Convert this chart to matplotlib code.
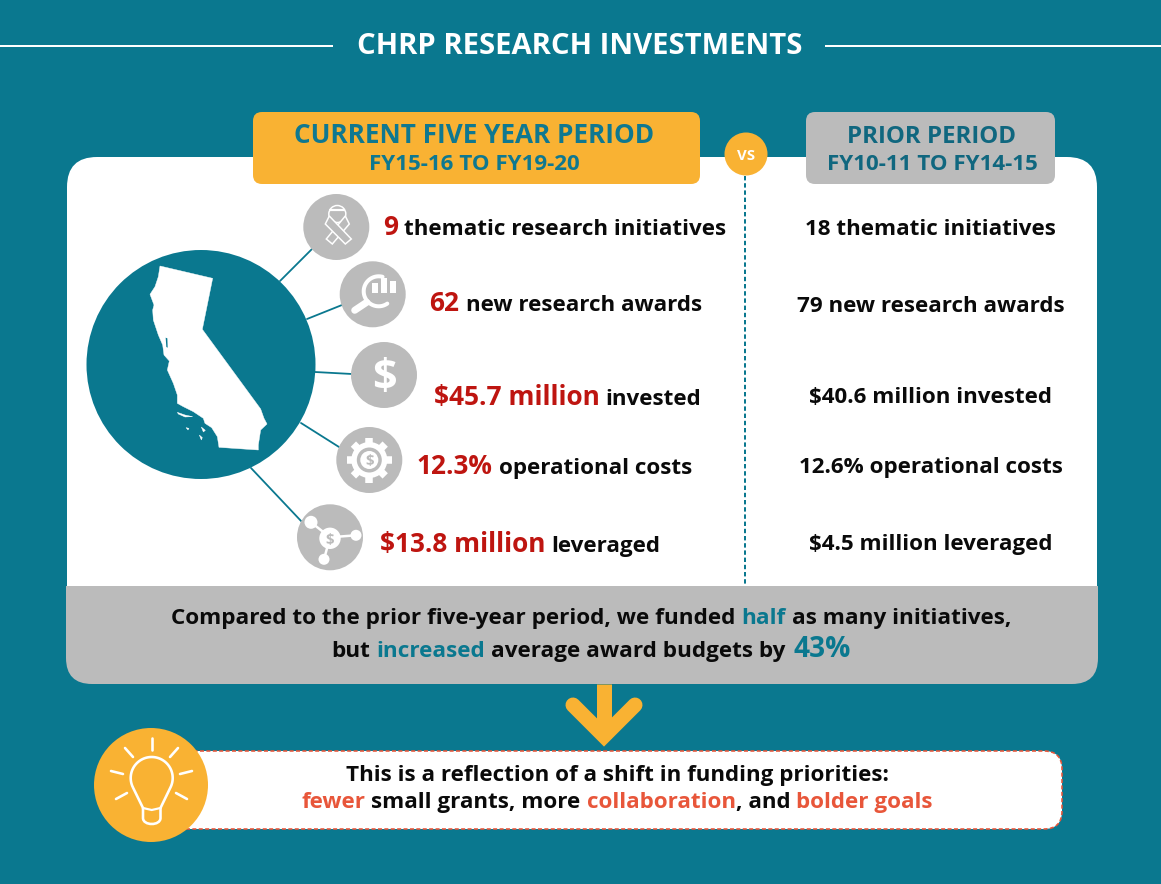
#!/usr/bin/env python3
"""CHRP research investments infographic, drawn in pixel coordinates."""
import matplotlib
matplotlib.use("Agg")
import matplotlib.pyplot as plt
import numpy as np
from matplotlib.patches import Circle, FancyBboxPatch, PathPatch, Polygon
from matplotlib.path import Path

W, H = 1161, 884
TEAL = "#0A788F"
ORANGE = "#F9B233"
GREY = "#BBBBBB"
RED = "#BE1510"
CORAL = "#E8563A"
BLACK = "#0A0A0A"

TITLE = "CHRP RESEARCH INVESTMENTS"
CURRENT_HEAD = ["CURRENT FIVE YEAR PERIOD", "FY15-16 TO FY19-20"]
PRIOR_HEAD = ["PRIOR PERIOD", "FY10-11 TO FY14-15"]

CURRENT_VALUES = ["9", "62", "$45.7 million", "12.3%", "$13.8 million"]
CURRENT_LABELS = ["thematic research initiatives", "new research awards",
                  "invested", "operational costs", "leveraged"]
PRIOR_ROWS = ["18 thematic initiatives", "79 new research awards",
              "$40.6 million invested", "12.6% operational costs",
              "$4.5 million leveraged"]

# layout of the five rows: left edge + baseline of the left text, baseline of the right text
ROW_X = [383, 429.5, 433.5, 417, 380]
ROW_Y = [235, 311, 405, 474, 552]
PRIOR_Y = [235, 312, 403, 473, 550]

# icon discs and the connector running from the big circle to each one
ICONS = [(336.3, 227), (372.7, 294.3), (384, 375), (369.3, 460), (330, 537.3)]
LINKS = [((280, 281), (312, 249)), ((307, 319), (342, 305)), ((315, 372), (352, 374)),
         ((301, 423), (339, 447)), ((251, 468), (302, 522))]

CALIFORNIA = [(60, 33), (218, 70), (187, 223), (362, 462), (372, 490), (381, 507), (362, 525),
              (355, 570), (355, 585), (237, 577), (232, 545), (215, 518), (195, 505), (190, 490),
              (160, 470), (130, 455), (112, 445), (112, 420), (100, 385), (82, 345), (88, 318),
              (72, 300), (68, 270), (55, 240), (40, 195), (38, 165), (42, 150), (30, 118),
              (45, 95), (55, 65)]
BAY = [(77, 248), (82, 250), (83, 278), (79, 276)]
ISLANDS = [[(112, 472), (135, 480), (158, 485), (135, 486), (115, 477)],
           [(138, 518), (147, 520), (144, 525)],
           [(184, 516), (196, 526), (190, 531)],
           [(178, 540), (187, 548), (184, 555)]]


def px(v):
    return v * 72 / 100


def crop(pts):
    return [(p[0] / 3 + 140, p[1] / 3 + 255) for p in pts]


fig = plt.figure(figsize=(W / 100, H / 100), dpi=100, facecolor=TEAL)
ax = fig.add_axes([0, 0, 1, 1])
ax.set_xlim(0, W)
ax.set_ylim(H, 0)
ax.axis("off")
plt.rcParams["font.family"] = ["Open Sans", "DejaVu Sans"]


def rbox(x0, y0, x1, y1, r, fc, ec="none", z=2, **kw):
    p = FancyBboxPatch((x0 + r, y0 + r), x1 - x0 - 2 * r, y1 - y0 - 2 * r,
                       boxstyle=f"round,pad={r},rounding_size={r}",
                       fc=fc, ec=ec, zorder=z, **kw)
    ax.add_patch(p)
    return p


def line(xs, ys, color="white", lw=2, z=5, **kw):
    ax.plot(xs, ys, color=color, lw=px(lw), zorder=z, solid_capstyle=kw.pop("cap", "round"), **kw)


def disc(x, y, r, fc, z=5, **kw):
    ax.add_patch(Circle((x, y), r, fc=fc, ec=kw.pop("ec", "none"), zorder=z, **kw))


def text(x, y, s, size, color=BLACK, ha="center", va="baseline", z=8):
    return ax.text(x, y, s, fontsize=px(size), color=color, fontweight="bold",
                   ha=ha, va=va, zorder=z)


def rich(segs, y, x=None, cx=None):
    """Draw (string, colour, size) runs on one baseline; a leading space means a word gap."""
    rend = fig.canvas.get_renderer()
    items = []
    total = 0
    for s, c, sz in segs:
        gap = 0.27 * sz if s.startswith(" ") else 0
        t = text(0, y, s.strip(), sz, c, ha="left")
        w = t.get_window_extent(rend).width
        items.append((t, gap, w))
        total += gap + w
    pos = x if x is not None else cx - total / 2
    for t, gap, w in items:
        pos += gap
        t.set_x(pos)
        pos += w


# title with rules on both sides
text(579.5, 54, TITLE, 29.3, "white")
line([0, 333], [46, 46], lw=2, cap="butt")
line([825, W], [46, 46], lw=2, cap="butt")

# main white panel, grey summary band with only the bottom corners rounded
rbox(67, 157, 1097, 640, 30, "white", z=1)
rbox(66, 586, 1098, 684, 26, GREY, z=2)
ax.fill_between([66, 1098], 586, 650, color=GREY, lw=0, zorder=2)

# period headers
rbox(253, 112, 700, 184, 9, ORANGE, z=3)
text(474, 143, CURRENT_HEAD[0], 26.1, "#0F7890")
text(474, 170, CURRENT_HEAD[1], 22.4, "#0F7890")
rbox(806, 112, 1055, 184, 9, GREY, z=3)
text(931.5, 143, PRIOR_HEAD[0], 24, "#10677F")
text(932, 170, PRIOR_HEAD[1], 22.4, "#10677F")

# vs badge and divider
line([745, 745], [176, 586], color=TEAL, lw=2, z=1.5, linestyle=(0, (2.2, 1.4)))
disc(746, 154, 21.5, ORANGE)
text(746, 160, "VS", 15, "white")

# big circle with the state
for a, b in LINKS:
    line([a[0], b[0]], [a[1], b[1]], color=TEAL, lw=1.8, z=2.5)
disc(201, 364.5, 114.5, TEAL, z=3)
ax.add_patch(Polygon(crop(CALIFORNIA), closed=True, fc="white", ec="white", lw=0.3, zorder=4))
ax.add_patch(Polygon(crop(BAY), closed=True, fc=TEAL, ec="none", zorder=4.1))
for isle in ISLANDS:
    ax.add_patch(Polygon(crop(isle), closed=True, fc="white", ec="white", lw=0.3, zorder=4))

for x, y in ICONS:
    disc(x, y, 33, GREY, z=4)

# ribbon icon
x, y = ICONS[0]
disc(x + 1, y - 13, 8.5, GREY, ec="white", lw=px(1.5), z=5)
line([x - 6, x + 8], [y - 17, y - 17], lw=2.2, z=5.5)
strand_a = [(x - 7, y - 11), (x + 15, y + 12), (x + 9, y + 17), (x - 11, y - 3)]
strand_b = [(x + 9, y - 11), (x - 10, y + 12), (x - 4, y + 17), (x + 13, y - 3)]
ax.add_patch(Polygon(strand_b, closed=True, fc=GREY, ec="white", lw=px(1.5), zorder=5.1))
ax.add_patch(Polygon(strand_a, closed=True, fc=GREY, ec="white", lw=px(1.5), zorder=5.2))

# magnifier with bars
x, y = ICONS[1]
t = np.radians(np.linspace(75, 305, 50))
line(x + 6 + 15 * np.cos(t), y - 3 - 15 * np.sin(t), lw=4)
line([x - 18, x - 6], [y + 16, y + 8], lw=7)
for bx, top in [(x + 2, -11), (x + 11, -16), (x + 20, -13)]:
    ax.fill_between([bx - 3, bx + 3], y + top, y - 1, color="white", lw=0, zorder=5.3)

# dollar
x, y = ICONS[2]
text(x, y + 15, "$", 43, "white", z=6)

# gear
x, y = ICONS[3]
for a in np.radians(np.arange(0, 360, 45)):
    line([x + 15 * np.cos(a), x + 22.5 * np.cos(a)],
         [y + 15 * np.sin(a), y + 22.5 * np.sin(a)], lw=7.5, cap="butt")
disc(x, y, 18, "white", z=5)
disc(x, y, 12.5, GREY, z=5.1)
disc(x, y, 9, "white", z=5.2)
text(x, y + 5.5, "$", 15, GREY, z=6)

# network
x, y = ICONS[4]
for nx, ny, r in [(-19, -15, 6.5), (26, -2, 5.5), (-6, 22, 5.5)]:
    line([x, x + nx], [y, y + ny], lw=2.5)
    disc(x + nx, y + ny, r, "white")
disc(x, y + 1, 10.7, "white", z=5.5)
text(x, y + 6.5, "$", 15, GREY, z=6)

# metric rows
for i in range(len(CURRENT_VALUES)):
    rich([(CURRENT_VALUES[i], RED, 26.2), (" " + CURRENT_LABELS[i], BLACK, 22.4)],
         ROW_Y[i], x=ROW_X[i])
    text(930.5, PRIOR_Y[i], PRIOR_ROWS[i], 22.4)

# summary band
rich([("Compared to the prior five-year period, we funded", BLACK, 22.45),
      (" half", TEAL, 22.45), (" as many initiatives,", BLACK, 22.45)], 624, cx=591)
rich([("but", BLACK, 22.45), (" increased", TEAL, 22.45),
      (" average award budgets by", BLACK, 22.45), (" 43%", TEAL, 28)], 657, cx=591)

# arrow
line([604, 604], [684, 738], color=ORANGE, lw=15, cap="butt", z=1)
ax.plot([573, 604, 635], [705, 736, 705], color=ORANGE, lw=px(15), zorder=1.1,
        solid_capstyle="round", solid_joinstyle="miter")

# takeaway box
rbox(150, 751, 1062, 829, 18, "white", ec=CORAL, z=2, lw=px(1.6), linestyle=(0, (2.5, 1.5)))
rich([("This is a reflection of a shift in funding priorities:", BLACK, 22.4)], 781, cx=617)
rich([("fewer", CORAL, 22.4), (" small grants, more", BLACK, 22.4),
      (" collaboration", CORAL, 22.4), (", and", BLACK, 22.4), (" bolder goals", CORAL, 22.4)],
     808, cx=617)

# light bulb badge
disc(151, 785, 57, ORANGE, z=3)
for a, b in [((151.5, 738), (151.5, 750)), ((125, 748), (133, 757)), ((178, 748), (170, 757)),
             ((111, 771), (123, 774)), ((192, 771), (180, 774)), ((116, 799), (127, 793)),
             ((187, 799), (176, 793))]:
    line([a[0], b[0]], [a[1], b[1]], lw=2.6)
t = np.radians(np.linspace(206, -26, 60))
glass = list(zip(151.7 + 21 * np.cos(t), 778 - 21 * np.sin(t)))
bulb = glass + [(160.5, 808), (160.5, 818), (160.5, 826), (143, 826), (143, 818),
                (143, 808), glass[0]]
codes = [Path.MOVETO] + [Path.LINETO] * 61 + [Path.CURVE4] * 3 + [Path.LINETO] * 2
ax.add_patch(PathPatch(Path(bulb, codes), fc="none", ec="white", lw=px(2.6), zorder=5,
                       joinstyle="round"))
ax.plot([143, 151.7, 160.5], [808, 810, 808], color="white", lw=px(2.2), zorder=5)

fig.savefig("out.png", dpi=100, facecolor=TEAL)
